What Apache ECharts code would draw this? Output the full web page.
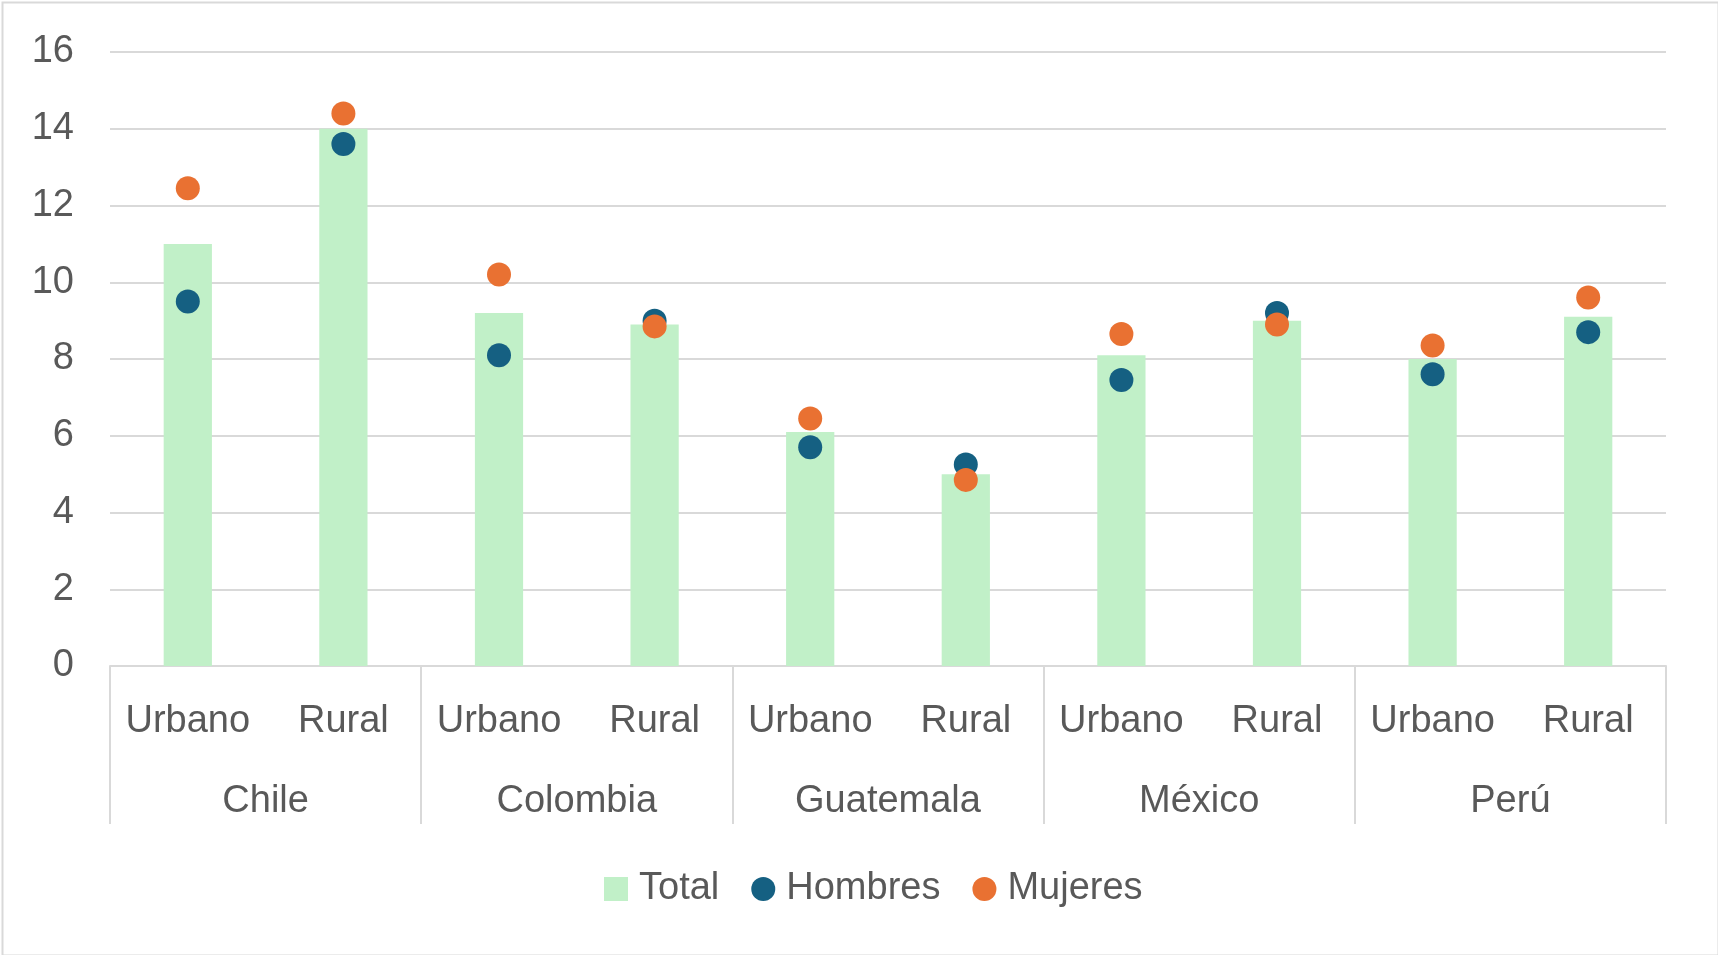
<!DOCTYPE html>
<html>
<head>
<meta charset="utf-8">
<script src="https://cdn.jsdelivr.net/npm/echarts@6/dist/echarts.min.js"></script>
<style>
html,body{margin:0;padding:0;background:#fff;}
#chart{width:1718px;height:955px;}
</style>
</head>
<body>
<div id="chart"></div>
<script>
var areas = ['Urbano','Rural','Urbano','Rural','Urbano','Rural','Urbano','Rural','Urbano','Rural'];
var countries = ['Chile','Colombia','Guatemala','México','Perú'];
var total = [11.0, 14.0, 9.2, 8.9, 6.1, 5.0, 8.1, 9.0, 8.0, 9.1];
var hombres = [9.5, 13.6, 8.1, 9.0, 5.7, 5.25, 7.45, 9.2, 7.6, 8.7];
var mujeres = [12.45, 14.4, 10.2, 8.85, 6.45, 4.85, 8.65, 8.9, 8.35, 9.6];
var yTicks = [0, 2, 4, 6, 8, 10, 12, 14, 16];

var FONT = '"Liberation Sans Narrow", "Liberation Sans", Arial, sans-serif';
var TXT = '#595959';
var chart = echarts.init(document.getElementById('chart'));
chart.setOption({
  animation: false,
  backgroundColor: '#ffffff',
  textStyle: {fontFamily: FONT, color: TXT},
  graphic: [{
    type: 'rect', left: 0, top: 0, silent: true,
    shape: {x: 1, y: 1, width: 1716, height: 953},
    style: {fill: 'none', stroke: '#d9d9d9', lineWidth: 2}
  }],
  grid: {left: 110, right: 52, top: 52, bottom: 289, containLabel: false},
  legend: {
    bottom: 42, left: 599,
    itemWidth: 24, itemHeight: 24, itemGap: 32,
    textStyle: {fontFamily: FONT, fontSize: 38, color: TXT, padding: [0, 0, 0, 6]},
    data: [
      {name: 'Total', icon: 'rect'},
      {name: 'Hombres', icon: 'circle'},
      {name: 'Mujeres', icon: 'circle'}
    ]
  },
  xAxis: [{
    type: 'category', data: areas, position: 'bottom',
    axisLine: {show: true, lineStyle: {color: '#d9d9d9', width: 2}},
    axisTick: {show: false},
    axisLabel: {fontFamily: FONT, fontSize: 38, color: TXT, margin: 37, interval: 0}
  }, {
    type: 'category', data: countries, position: 'bottom',
    axisLine: {show: false},
    axisTick: {show: true, length: 158, lineStyle: {color: '#d9d9d9', width: 2}},
    axisLabel: {fontFamily: FONT, fontSize: 38, color: TXT, margin: 117, interval: 0}
  }],
  yAxis: {
    type: 'value', min: 0, max: 16, interval: 2,
    axisLine: {show: false}, axisTick: {show: false},
    splitLine: {lineStyle: {color: '#d9d9d9', width: 2}},
    axisLabel: {fontFamily: FONT, fontSize: 38, color: TXT, margin: 36,
      formatter: function (v) { return yTicks.indexOf(v) >= 0 ? String(v) : ''; }}
  },
  series: [{
    name: 'Total', type: 'bar', data: total, barWidth: '31%',
    itemStyle: {color: '#c1f0c8'}, xAxisIndex: 0
  }, {
    name: 'Hombres', type: 'scatter', data: hombres, symbol: 'circle', symbolSize: 24,
    itemStyle: {color: '#156082', opacity: 1}, xAxisIndex: 0
  }, {
    name: 'Mujeres', type: 'scatter', data: mujeres, symbol: 'circle', symbolSize: 24,
    itemStyle: {color: '#e97132', opacity: 1}, xAxisIndex: 0
  }]
});
</script>
</body>
</html>
